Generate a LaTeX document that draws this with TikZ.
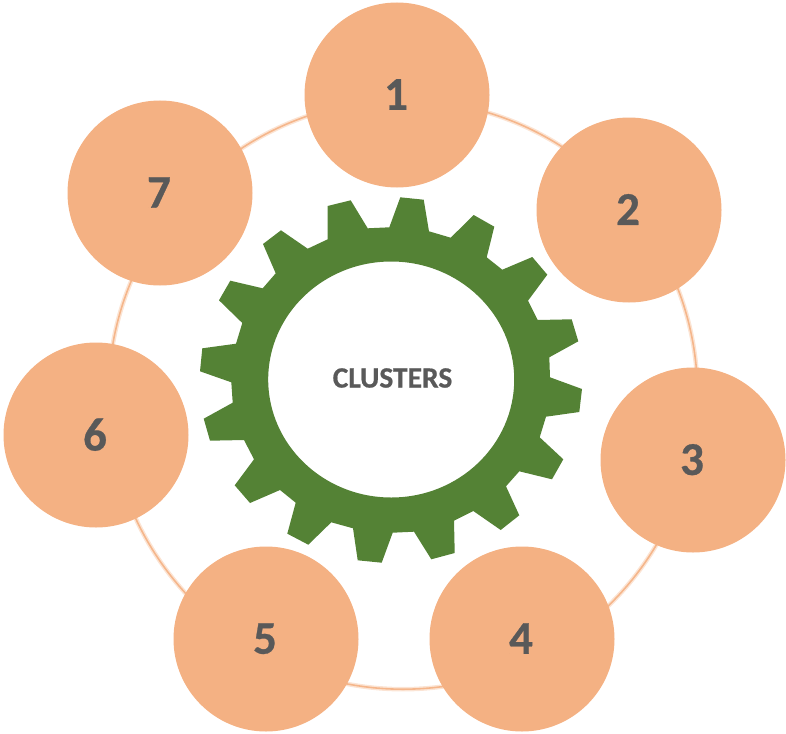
\documentclass[tikz,border=0pt]{standalone}
\usepackage{fontspec}
\setmainfont{Carlito}[BoldFeatures={FakeBold=0.6}]
\definecolor{peach}{HTML}{F4B183}
\definecolor{gearg}{HTML}{548235}
\definecolor{txt}{HTML}{595959}
\tikzset{
  px/.style={x=1pt,y=-1pt},
  member/.style={circle,fill=peach,minimum size=185pt,inner sep=0pt,text=txt,font=\fontsize{47}{47}\selectfont\bfseries},
  ringglow/.style={circle,minimum size=589pt,inner sep=0pt,draw=peach,draw opacity=.35,line width=4.5pt},
  ringcore/.style={circle,minimum size=589pt,inner sep=0pt,draw=peach,draw opacity=.9,line width=1.6pt},
  title/.style={text=txt,font=\fontsize{29.5}{30}\selectfont\bfseries,inner sep=0pt}
}
\newcommand{\dgt}[1]{\kern-2pt\raisebox{1pt}{#1}}
\begin{document}
\begin{tikzpicture}[px]
\useasboundingbox (0,0) rectangle (786,733);
\node[ringglow] (ringa) at (403,394.7) {};
\node[ringcore] (ringb) at (403,394.7) {};
\fill[gearg,even odd rule]
 (327.5,206)--(350.7,200.3)--(367.7,228.3)--(389.3,227.3)--(400.3,197.3)--(423.7,199.7)--(429,231.3)--(450.7,237.7)
 --(473.7,215)--(494.3,226.7)--(486.7,257.3)--(502.3,269.7)--(532.3,257)--(547.3,274.7)--(528,300.7)--(537.7,320)
 --(571.7,319.3)--(578.3,341.3)--(549.3,357.3)--(550,377.3)--(582,389)--(579.3,412)--(546,416.7)--(539.7,437.3)
 --(563.3,459.3)--(552,479.3)--(519.3,471.3)--(506,486.3)--(519.3,515.3)--(500.7,530)--(473.3,511)--(454,520.7)
 --(454.7,553)--(431.3,559.3)--(414,531.7)--(392.7,532.7)--(381.7,562.7)--(357.7,560.3)--(353,528.3)--(331.3,522.3)
 --(308.3,544.7)--(287.3,533.7)--(295.7,502.7)--(280,490)--(250,503)--(234.7,485.3)--(254,459.3)--(244,440)
 --(210,440.7)--(203.7,418.7)--(232.7,402.7)--(231.3,382.3)--(200,371.3)--(202.3,348.3)--(236,343.7)--(242.3,323)
 --(219,300.3)--(230.3,280.7)--(262.7,288.3)--(275.7,273.3)--(263,244)--(281,230.3)--(307.7,248.7)--(327.7,239.3)--cycle
 (391.2,379.5) ellipse [x radius=123,y radius=118];
\node[title] (center) at (392.5,378) {CLUSTERS};
\node[member] (n1) at (397,95) {\dgt{1}};
\node[member] (n2) at (629,210) {\dgt{2}};
\node[member] (n3) at (693,460) {\dgt{3}};
\node[member] (n4) at (522,639) {\dgt{4}};
\node[member] (n5) at (266,639) {\dgt{5}};
\node[member] (n6) at (96,435) {\dgt{6}};
\node[member] (n7) at (160,193) {\dgt{7}};
\end{tikzpicture}
\end{document}
